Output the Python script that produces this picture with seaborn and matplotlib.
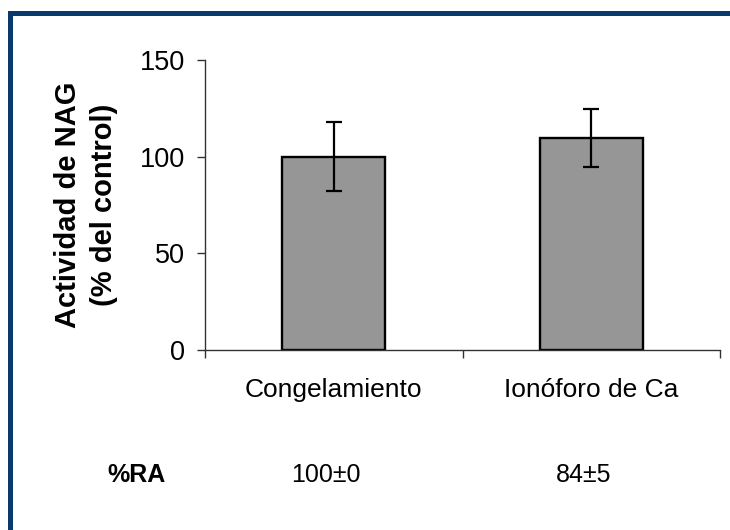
import matplotlib
matplotlib.use('Agg')
import matplotlib.pyplot as plt
import seaborn as sns
import pandas as pd
from matplotlib.patches import Rectangle

categories = ['Congelamiento', 'Ionóforo de Ca']
actividad = [100, 109.5]
error = [18, 15]
ra_title = '%RA'
ra_labels = ['100±0', '84±5']
yticks = [0, 50, 100, 150]

sns.set_theme(style='white')
plt.rcParams['font.family'] = ['Liberation Sans', 'DejaVu Sans']
plt.rcParams['text.color'] = 'black'
plt.rcParams['axes.labelcolor'] = 'black'

fig = plt.figure(figsize=(7.3, 5.3), dpi=100)
W, H = 730, 530
ax = fig.add_axes([205 / W, 180 / H, 515 / W, 290 / H])

df = pd.DataFrame({'cat': categories, 'val': actividad})
sns.barplot(data=df, x='cat', y='val', color='#969696', saturation=1,
            width=0.4, edgecolor='black', linewidth=1.7, errorbar=None, ax=ax)
ax.errorbar(x=list(range(len(categories))), y=actividad, yerr=error, fmt='none',
            ecolor='black', elinewidth=1.6, capsize=6, capthick=1.6, zorder=5)

ax.set_xlim(-0.5, 1.5)
ax.set_ylim(0, 150)
ax.set_yticks(yticks)
ax.set_yticklabels([str(t) for t in yticks], fontsize=19.5)
ax.set_xticks([-0.5, 0.5, 1.5])
ax.set_xticklabels(['', '', ''])
ax.set_xticks([0, 1], minor=True)
ax.set_xticklabels(categories, minor=True, fontsize=19)
ax.tick_params(axis='x', which='major', bottom=True, direction='out', length=6, width=1, color='#333333')
ax.tick_params(axis='x', which='minor', bottom=True, length=0, pad=20, labelcolor='black')
ax.tick_params(axis='y', left=True, direction='out', length=6, width=1, color='#333333', pad=8.5, labelcolor='black')

for s in ['top', 'right']:
    ax.spines[s].set_visible(False)
for s in ['left', 'bottom']:
    ax.spines[s].set_color('#333333')
    ax.spines[s].set_linewidth(1)

ax.set_xlabel('')
ax.set_ylabel('Actividad de NAG\n(% del control)', fontsize=21, fontweight='bold',
              linespacing=1.4, color='black')
ax.yaxis.set_label_coords(-0.168, 0.5)

fig.text(136 / W, 1 - 482 / H, ra_title, ha='center', va='baseline', fontsize=18,
         fontweight='bold', color='black')
for i, lab in enumerate(ra_labels):
    xc = ax.transData.transform((i, 0))[0] / W
    fig.text(xc - 8 / W, 1 - 482 / H, lab, ha='center', va='baseline', fontsize=18, color='black')

fig.patches.append(Rectangle((9.5 / W, -0.1), 1.2, (H - 12.5) / H + 0.1,
                             transform=fig.transFigure, fill=False,
                             edgecolor='#0A3A6B', linewidth=3.6))

fig.savefig('out.png', dpi=100)
